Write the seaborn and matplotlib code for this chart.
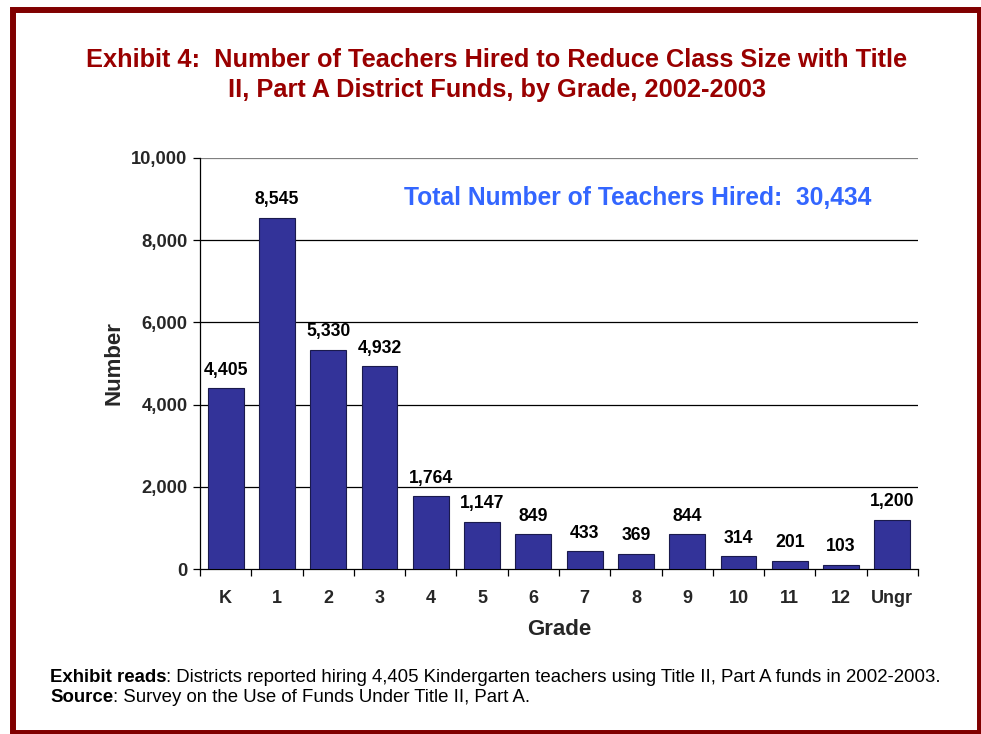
import matplotlib
matplotlib.use("Agg")
import matplotlib.pyplot as plt
import seaborn as sns
import pandas as pd
from matplotlib.patches import Rectangle
from matplotlib.ticker import FuncFormatter

grades = ["K", "1", "2", "3", "4", "5", "6", "7", "8", "9", "10", "11", "12", "Ungr"]
teachers = [4405, 8545, 5330, 4932, 1764, 1147, 849, 433, 369, 844, 314, 201, 103, 1200]
yticks = [0, 2000, 4000, 6000, 8000, 10000]

title = "Exhibit 4:  Number of Teachers Hired to Reduce Class Size with Title\nII, Part A District Funds, by Grade, 2002-2003"
total_text = "Total Number of Teachers Hired:  30,434"
notes = [("Exhibit reads", ": Districts reported hiring 4,405 Kindergarten teachers using Title II, Part A funds in 2002-2003."),
         ("Source", ": Survey on the Use of Funds Under Title II, Part A.")]

sns.set_theme(style="white")
plt.rcParams["font.family"] = ["Liberation Sans", "DejaVu Sans"]

W, H = 981, 734
fig = plt.figure(figsize=(W / 100, H / 100), dpi=100)
fig.patch.set_facecolor("white")

ax = fig.add_axes([200 / W, 1 - 569 / H, 718 / W, 411 / H])
df = pd.DataFrame({"Grade": grades, "Number": teachers})
sns.barplot(data=df, x="Grade", y="Number", ax=ax, color="#333399",
            saturation=1, width=0.7, edgecolor="#1a1a4d", linewidth=0.8,
            zorder=3)

ax.set_ylim(0, 10000)
ax.set_xlim(-0.5, len(grades) - 0.5)
ax.set_yticks(yticks)
ax.yaxis.set_major_formatter(FuncFormatter(lambda v, p: f"{int(v):,}"))
for y in yticks[1:]:
    ax.axhline(y, color="#000000" if y < 10000 else "#808080", lw=0.9, zorder=1)

for s in ["top", "right"]:
    ax.spines[s].set_visible(False)
ax.spines["left"].set_color("black")
ax.spines["left"].set_linewidth(0.9)
ax.spines["bottom"].set_color("black")
ax.spines["bottom"].set_linewidth(0.9)

ax.tick_params(axis="y", left=True, length=5, width=0.9, color="black",
               labelsize=13.2, pad=4)
ax.tick_params(axis="x", bottom=False, labelsize=13, pad=9)
for lab in ax.get_yticklabels() + ax.get_xticklabels():
    lab.set_fontweight("bold")
ax.set_xticks([i - 0.5 for i in range(len(grades) + 1)], minor=True)
ax.tick_params(axis="x", which="minor", bottom=True, length=5, width=0.9,
               color="black")

ax.set_xlabel("Grade", fontsize=16, fontweight="bold", labelpad=9)
ax.set_ylabel("Number", fontsize=16, fontweight="bold", labelpad=5)

for i, v in enumerate(teachers):
    ax.text(i, v + 230, f"{v:,}", ha="center", va="bottom",
            fontsize=12.7, fontweight="bold", color="black")

ax.text(638 / W, 1 - 198 / H, total_text, transform=fig.transFigure, ha="center",
        va="center", fontsize=17.7, fontweight="bold", color="#3366FF")

fig.text(497 / W, 1 - 75 / H, title, ha="center", va="center",
         fontsize=18.3, fontweight="bold", color="#990000", linespacing=1.3)

renderer = fig.canvas.get_renderer()
for k, (bold, rest) in enumerate(notes):
    yy = 1 - (677 + 20 * k) / H
    t = fig.text(50 / W, yy, bold, ha="left", va="center", fontsize=13.4,
                 fontweight="bold", color="black")
    bb = t.get_window_extent(renderer)
    fig.text(bb.x1 / W, yy, rest, ha="left", va="center", fontsize=13.4,
             color="black")

fig.patches.append(Rectangle((13 / W, 1 - 733 / H), (980 - 13) / W, (733 - 10) / H,
                             transform=fig.transFigure, fill=False,
                             edgecolor="#800000", linewidth=4.3))

fig.savefig("out.png", dpi=100)
